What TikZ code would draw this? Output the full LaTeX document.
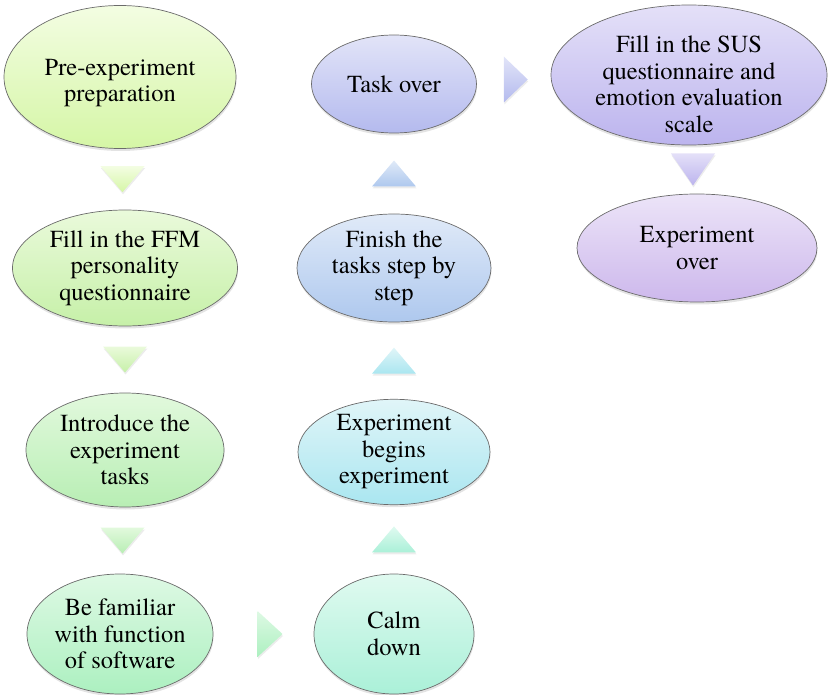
\documentclass[tikz,border=0pt]{standalone}
\usepackage{fontspec}
\setmainfont{TeX Gyre Termes}
\newfontfamily\stagefont{TeX Gyre Termes}
\usepackage{xcolor}
\usepackage{tikz}
\usetikzlibrary{positioning,shapes.geometric,calc,shadows}

\definecolor{preA}{HTML}{F3FDE2}\definecolor{preB}{HTML}{D5F6A6}
\definecolor{ffmA}{HTML}{EAFADB}\definecolor{ffmB}{HTML}{C6F0A8}
\definecolor{intA}{HTML}{E2F9DD}\definecolor{intB}{HTML}{B8EEB4}
\definecolor{famA}{HTML}{DEF9E4}\definecolor{famB}{HTML}{ACF0C0}
\definecolor{calA}{HTML}{E0FAF0}\definecolor{calB}{HTML}{AAF0D8}
\definecolor{begA}{HTML}{E0F5F8}\definecolor{begB}{HTML}{AAE6F0}
\definecolor{finA}{HTML}{E0EAF8}\definecolor{finB}{HTML}{AEC8EE}
\definecolor{tskA}{HTML}{E2E4F8}\definecolor{tskB}{HTML}{B4BAEE}
\definecolor{susA}{HTML}{E4E0F8}\definecolor{susB}{HTML}{BCB4EE}
\definecolor{endA}{HTML}{ECE4F8}\definecolor{endB}{HTML}{CDB8EC}

\begin{document}
\begin{tikzpicture}[x=1pt, y=1pt,
  stage/.style 2 args={ellipse, draw=black!58, line width=0.7pt, top color=#1, bottom color=#2,
    align=center, inner sep=0pt, font=\stagefont\fontsize{24.5}{26.5}\selectfont,
    drop shadow={opacity=0.22, shadow xshift=0.5pt, shadow yshift=-2.5pt}},
  tri/.style 2 args={top color=#1, bottom color=#2, draw=none,
    drop shadow={opacity=0.15, shadow xshift=0.5pt, shadow yshift=-2pt}}]

  \useasboundingbox (0,0) rectangle (828,-695);

  % left column, going down
  \node [stage={preA}{preB}, minimum width=232pt, minimum height=143pt] (p1) at (120,-77) {\rule{0pt}{28pt}Pre-experiment\\preparation};
  \node [stage={ffmA}{ffmB}, minimum width=225pt, minimum height=116pt, below of=p1, node distance=191pt, xshift=5pt] (p2) {Fill in the FFM\\personality\\questionnaire};
  \node [stage={intA}{intB}, minimum width=198pt, minimum height=114pt, below of=p2, node distance=182pt] (p3) {Introduce the\\experiment\\tasks};
  \node [stage={famA}{famB}, minimum width=186pt, minimum height=120pt, below of=p3, node distance=184pt, xshift=-5pt] (p4) {Be familiar\\with function\\of software};

  % middle column, going up
  \node [stage={calA}{calB}, minimum width=160pt, minimum height=120pt, right of=p4, node distance=274pt] (p5) {Calm\\down};
  \node [stage={begA}{begB}, minimum width=192pt, minimum height=104pt, above of=p5, node distance=182pt] (p6) {Experiment\\begins\\experiment};
  \node [stage={finA}{finB}, minimum width=194pt, minimum height=108pt, above of=p6, node distance=184pt] (p7) {Finish the\\tasks step by\\step};
  \node [stage={tskA}{tskB}, minimum width=165pt, minimum height=98pt, above of=p7, node distance=184pt] (p8) {Task over};

  % right column
  \node [stage={susA}{susB}, minimum width=276pt, minimum height=140pt, inner ysep=-8pt, right of=p8, node distance=295pt, yshift=9pt] (p9) {\rule{0pt}{35pt}Fill in the SUS\\questionnaire and\\emotion evaluation\\scale};
  \node [stage={endA}{endB}, minimum width=240pt, minimum height=108pt, below of=p9, node distance=173pt, xshift=8pt] (p10) {Experiment\\over};

  % triangle arrows
  \path [tri={preA}{preB}] ($(p1.south)!0.5!(p2.north)$) +(-22,13) -- +(22,13) -- +(0,-13) -- cycle;
  \path [tri={ffmA}{ffmB}] ($(p2.south)!0.5!(p3.north)$) +(-22,13) -- +(22,13) -- +(0,-13) -- cycle;
  \path [tri={intA}{intB}] ($(p3.south)!0.5!(p4.north)$) +(-22,13) -- +(22,13) -- +(0,-13) -- cycle;
  \path [tri={famA}{famB}] ($(p4.east)!0.5!(p5.west)$) +(-6,23) -- +(19,0) -- +(-6,-23) -- cycle;
  \path [tri={calA}{calB}] ($(p5.north)!0.5!(p6.south)$) +(-22,-13) -- +(22,-13) -- +(0,13) -- cycle;
  \path [tri={begA}{begB}] ($(p6.north)!0.5!(p7.south)$) +(-22,-13) -- +(22,-13) -- +(0,13) -- cycle;
  \path [tri={finA}{finB}] ($(p7.north)!0.5!(p8.south)$) +(-22,-13) -- +(22,-13) -- +(0,13) -- cycle;
  \path [tri={tskA}{tskB}] ($(p8.east)!0.5!(p9.west)$) +(-10,23) -- +(14,0) -- +(-10,-23) -- cycle;
  \path [tri={susA}{susB}] ($(p9.south)!0.5!(p10.north)$) +(-22,16) -- +(22,16) -- +(0,-16) -- cycle;
\end{tikzpicture}
\end{document}
